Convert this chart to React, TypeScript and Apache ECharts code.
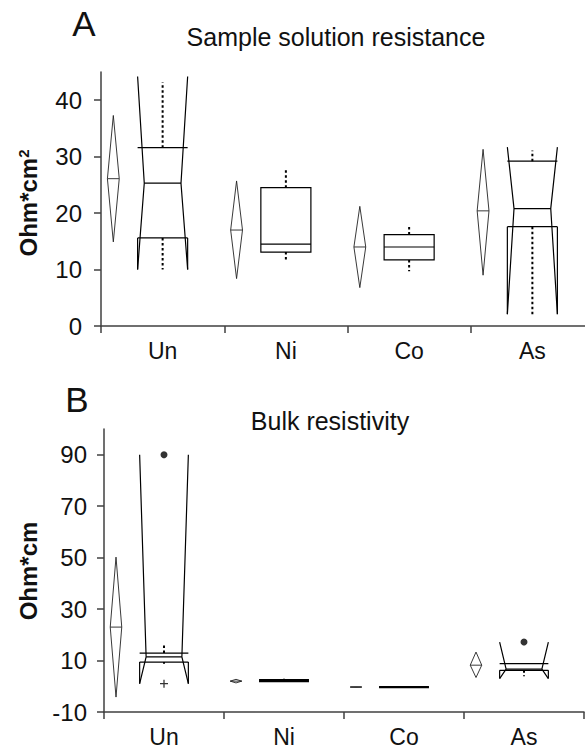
import React, { useEffect, useRef } from "react";
import * as echarts from "echarts";

const categories = ["Un", "Ni", "Co", "As"];

// Panel A – Sample solution resistance (Ohm*cm^2)
const aDiamondLow = [14.9, 8.4, 6.8, 9.0];
const aMean = [26.1, 17.0, 14.0, 20.4];
const aDiamondHigh = [37.3, 25.7, 21.2, 31.3];
const aWhiskerLow = [10.0, 11.4, 9.7, 2.1];
const aQ1 = [15.6, 13.1, 11.7, 17.6];
const aMedian = [25.3, 14.5, 14.0, 20.8];
const aQ3 = [31.6, 24.5, 16.2, 29.2];
const aWhiskerHigh = [43.2, 27.8, 18.0, 31.1];
const aNotchLow = [10.0, null, null, 2.1];
const aNotchHigh = [44.2, null, null, 31.7];
const aOutlierDots: [number, number][] = [];
const aOutlierPlus: [number, number][] = [];
const aTicks = [0, 10, 20, 30, 40];

// Panel B – Bulk resistivity (Ohm*cm)
const bDiamondLow = [-4.2, 1.3, -0.4, 3.4];
const bMean = [23.0, 2.0, -0.3, 8.2];
const bDiamondHigh = [50.2, 2.7, -0.2, 13.3];
const bWhiskerLow = [8.8, 1.7, -0.5, 3.9];
const bQ1 = [9.4, 1.8, -0.5, 6.2];
const bMedian = [11.4, 2.2, -0.3, 6.7];
const bQ3 = [12.9, 2.6, -0.1, 8.8];
const bWhiskerHigh = [16.8, 2.9, -0.1, 8.8];
const bNotchLow = [1.0, null, null, 3.0];
const bNotchHigh = [90.0, null, null, 17.2];
const bOutlierDots: [number, number][] = [
  [0, 90.0],
  [3, 17.2],
];
const bOutlierPlus: [number, number][] = [[0, 1.0]];
const bTicks = [-10, 10, 30, 50, 70, 90];

const FONT = "'Liberation Sans', Arial, Helvetica, sans-serif";

type Panel = {
  dLo: number[];
  mean: number[];
  dHi: number[];
  wLo: number[];
  q1: number[];
  med: number[];
  q3: number[];
  wHi: number[];
  nLo: (number | null)[];
  nHi: (number | null)[];
};

const panelA: Panel = {
  dLo: aDiamondLow,
  mean: aMean,
  dHi: aDiamondHigh,
  wLo: aWhiskerLow,
  q1: aQ1,
  med: aMedian,
  q3: aQ3,
  wHi: aWhiskerHigh,
  nLo: aNotchLow,
  nHi: aNotchHigh,
};
const panelB: Panel = {
  dLo: bDiamondLow,
  mean: bMean,
  dHi: bDiamondHigh,
  wLo: bWhiskerLow,
  q1: bQ1,
  med: bMedian,
  q3: bQ3,
  wHi: bWhiskerHigh,
  nLo: bNotchLow,
  nHi: bNotchHigh,
};

const makeRender = (p: Panel) => (params: any, api: any) => {
  const i = api.value(0);
  const band = api.size([1, 0])[0];
  const cx = api.coord([i, p.med[i]])[0];
  const Y = (v: number) => api.coord([i, v])[1];
  const dx = cx - 0.4 * band;
  const dhw = 0.048 * band;
  const bhw = 0.203 * band;
  const inset = 0.054 * band;
  const thin = { stroke: "#222", lineWidth: 0.9, fill: "none" };
  const solid = { stroke: "#000", lineWidth: 1.2, fill: "none" };
  const dotted = { stroke: "#000", lineWidth: 2, lineDash: [2.5, 2.5], fill: "none" };
  const children: any[] = [];
  const ym = Y(p.mean[i]);
  children.push({
    type: "polygon",
    shape: { points: [[dx - dhw, ym], [dx, Y(p.dHi[i])], [dx + dhw, ym], [dx, Y(p.dLo[i])]] },
    style: thin,
  });
  children.push({ type: "line", shape: { x1: dx - dhw, y1: ym, x2: dx + dhw, y2: ym }, style: thin });
  if (p.wHi[i] > p.q3[i]) {
    children.push({ type: "line", shape: { x1: cx, y1: Y(p.q3[i]), x2: cx, y2: Y(p.wHi[i]) }, style: dotted });
  }
  if (p.wLo[i] < p.q1[i]) {
    children.push({ type: "line", shape: { x1: cx, y1: Y(p.q1[i]), x2: cx, y2: Y(p.wLo[i]) }, style: dotted });
  }
  const L = cx - bhw;
  const R = cx + bhw;
  const nLo = p.nLo[i];
  const nHi = p.nHi[i];
  if (nLo != null && nHi != null) {
    const Li = L + inset;
    const Ri = R - inset;
    const yMed = Y(p.med[i]);
    children.push({ type: "polyline", shape: { points: [[L, Y(nHi)], [Li, yMed], [L, Y(nLo)]] }, style: solid });
    children.push({ type: "polyline", shape: { points: [[R, Y(nHi)], [Ri, yMed], [R, Y(nLo)]] }, style: solid });
    children.push({ type: "line", shape: { x1: L, y1: Y(p.q3[i]), x2: R, y2: Y(p.q3[i]) }, style: solid });
    children.push({ type: "line", shape: { x1: L, y1: Y(p.q1[i]), x2: R, y2: Y(p.q1[i]) }, style: solid });
    children.push({ type: "line", shape: { x1: Li, y1: yMed, x2: Ri, y2: yMed }, style: solid });
    if (nLo < p.q1[i]) {
      children.push({ type: "line", shape: { x1: L, y1: Y(p.q1[i]), x2: L, y2: Y(nLo) }, style: solid });
      children.push({ type: "line", shape: { x1: R, y1: Y(p.q1[i]), x2: R, y2: Y(nLo) }, style: solid });
    }
  } else {
    const yt = Y(p.q3[i]);
    const yb = Y(p.q1[i]);
    children.push({ type: "rect", shape: { x: L, y: yt, width: R - L, height: Math.max(yb - yt, 0.5) }, style: solid });
    const yMed = Y(p.med[i]);
    children.push({ type: "line", shape: { x1: L, y1: yMed, x2: R, y2: yMed }, style: solid });
  }
  return { type: "group", children };
};

const axisColor = "#404040";

const makeXAxis = (gridIndex: number) => ({
  type: "category",
  gridIndex,
  position: "bottom",
  data: categories,
  boundaryGap: true,
  axisLine: { show: true, onZero: false, lineStyle: { color: axisColor, width: 1.5 } },
  axisTick: { show: true, length: 7, inside: false, interval: 0, alignWithLabel: false, lineStyle: { color: axisColor, width: 1.5 } },
  axisLabel: { fontSize: 23, fontFamily: FONT, color: "#111", margin: 13, interval: 0 },
  splitLine: { show: false },
  splitArea: { show: false },
  minorTick: { show: false },
});

const makeYAxis = (gridIndex: number, min: number, max: number, ticks: number[], margin: number) => ({
  type: "value",
  gridIndex,
  position: "left",
  min,
  max,
  axisLine: { show: true, onZero: false, lineStyle: { color: axisColor, width: 1.5 } },
  axisTick: { show: true, length: 7, inside: false, customValues: ticks, lineStyle: { color: axisColor, width: 1.5 } },
  axisLabel: { fontSize: 24, fontFamily: FONT, color: "#111", margin, customValues: ticks },
  splitLine: { show: false },
  splitArea: { show: false },
  minorTick: { show: false },
});

export default function App() {
  const ref = useRef<HTMLDivElement>(null);
  useEffect(() => {
    document.body.style.margin = "0";
    if (!ref.current) return;
    const chart = echarts.init(ref.current, null, { renderer: "svg" });
    const idx = categories.map((_, i) => [i, 0]);
    chart.setOption({
      animation: false,
      backgroundColor: "#fff",
      textStyle: { fontFamily: FONT },
      grid: [
        { left: 101, top: 72, width: 493, height: 254, outerBoundsMode: "none", containLabel: false, show: false },
        { left: 104, top: 429, width: 480, height: 283, outerBoundsMode: "none", containLabel: false, show: false },
      ],
      xAxis: [makeXAxis(0), makeXAxis(1)],
      yAxis: [makeYAxis(0, 0, 45, aTicks, 19), makeYAxis(1, -10, 100, bTicks, 17)],
      series: [
        { type: "custom", xAxisIndex: 0, yAxisIndex: 0, data: idx, renderItem: makeRender(panelA), clip: false },
        { type: "custom", xAxisIndex: 1, yAxisIndex: 1, data: idx, renderItem: makeRender(panelB), clip: false },
        { type: "scatter", xAxisIndex: 0, yAxisIndex: 0, data: aOutlierDots, symbol: "circle", symbolSize: 7, itemStyle: { color: "#000" } },
        { type: "scatter", xAxisIndex: 1, yAxisIndex: 1, data: bOutlierDots, symbol: "circle", symbolSize: 7, itemStyle: { color: "#000" } },
        { type: "scatter", xAxisIndex: 0, yAxisIndex: 0, data: aOutlierPlus, symbol: "path://M4.2,0H5.8V10H4.2ZM0,4.2H10V5.8H0Z", symbolSize: 8, itemStyle: { color: "#000" } },
        { type: "scatter", xAxisIndex: 1, yAxisIndex: 1, data: bOutlierPlus, symbol: "path://M4.2,0H5.8V10H4.2ZM0,4.2H10V5.8H0Z", symbolSize: 8, itemStyle: { color: "#000" } },
      ],
      graphic: [
        { type: "text", x: 84, y: 23, style: { text: "A", font: `35px ${FONT}`, fill: "#111", align: "center", verticalAlign: "middle" } },
        { type: "text", x: 77, y: 399, style: { text: "B", font: `35px ${FONT}`, fill: "#111", align: "center", verticalAlign: "middle" } },
        { type: "text", x: 336, y: 37, style: { text: "Sample solution resistance", font: `25px ${FONT}`, fill: "#111", align: "center", verticalAlign: "middle" } },
        { type: "text", x: 330, y: 421, style: { text: "Bulk resistivity", font: `25px ${FONT}`, fill: "#111", align: "center", verticalAlign: "middle" } },
        {
          type: "text",
          x: 28,
          y: 203,
          rotation: Math.PI / 2,
          style: {
            text: "{a|Ohm*cm}{b|2}",
            align: "center",
            verticalAlign: "middle",
            rich: {
              a: { fontSize: 24, fontWeight: "bold", fontFamily: FONT, fill: "#111" },
              b: { fontSize: 15, fontWeight: "bold", fontFamily: FONT, fill: "#111", verticalAlign: "top" },
            },
          },
        },
        {
          type: "text",
          x: 28,
          y: 571,
          rotation: Math.PI / 2,
          style: { text: "Ohm*cm", font: `bold 24px ${FONT}`, fill: "#111", align: "center", verticalAlign: "middle" },
        },
      ],
    });
    return () => chart.dispose();
  }, []);
  return <div ref={ref} style={{ width: 585, height: 748 }} />;
}
